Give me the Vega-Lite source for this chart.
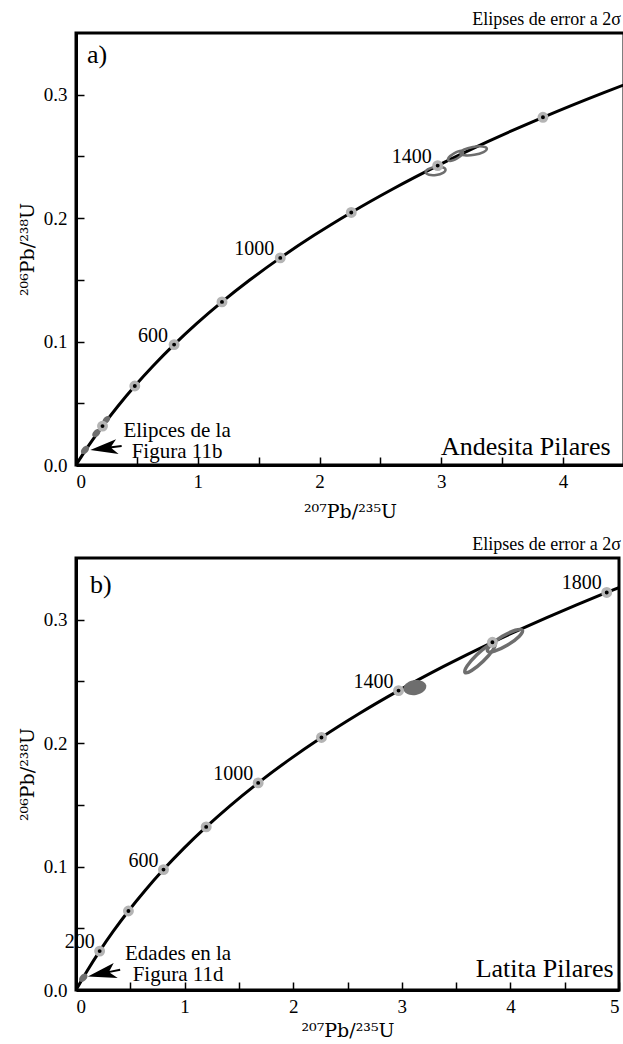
{
  "$schema": "https://vega.github.io/schema/vega-lite/v6.json",
  "background": "white",
  "padding": {"top": 9, "left": 16, "right": 0, "bottom": 0},
  "spacing": 11,
  "config": {
    "view": {"stroke": "black", "strokeWidth": 3},
    "font": "Liberation Serif",
    "axis": {"domainColor": "black", "domainWidth": 3, "tickColor": "black", "tickWidth": 1.5, "tickSize": -8, "labelFont": "Liberation Serif", "labelFontSize": 19, "labelColor": "black", "labelOverlap": false, "labelBound": false, "titleFont": "DejaVu Serif", "titleFontSize": 19, "titleFontWeight": "normal", "titleColor": "black", "grid": false},
    "axisY": {"titlePadding": 6, "labelPadding": 17},
    "axisX": {"labelPadding": 15, "titleBaseline": "middle", "titleAlign": "center", "titleY": 46},
    "title": {"font": "Liberation Serif", "fontSize": 18, "fontWeight": "normal", "anchor": "end", "offset": 4, "color": "black", "frame": "group"}
  },
  "datasets": {
    "concordia": [
      {"t": 0, "x": 0, "y": 0},
      {"t": 50, "x": 0.05048, "y": 0.007786},
      {"t": 100, "x": 0.10350, "y": 0.015633},
      {"t": 200, "x": 0.21771, "y": 0.031511},
      {"t": 300, "x": 0.34374, "y": 0.047637},
      {"t": 400, "x": 0.48281, "y": 0.064016},
      {"t": 500, "x": 0.63628, "y": 0.080650},
      {"t": 600, "x": 0.80563, "y": 0.097544},
      {"t": 700, "x": 0.99251, "y": 0.114702},
      {"t": 800, "x": 1.19873, "y": 0.132129},
      {"t": 900, "x": 1.42629, "y": 0.149828},
      {"t": 1000, "x": 1.67741, "y": 0.167804},
      {"t": 1100, "x": 1.95452, "y": 0.186061},
      {"t": 1200, "x": 2.26030, "y": 0.204603},
      {"t": 1300, "x": 2.59774, "y": 0.223435},
      {"t": 1400, "x": 2.97009, "y": 0.242561},
      {"t": 1500, "x": 3.38099, "y": 0.261988},
      {"t": 1600, "x": 3.83441, "y": 0.281717},
      {"t": 1700, "x": 4.33477, "y": 0.301754},
      {"t": 1750, "x": 4.60404, "y": 0.311890},
      {"t": 1800, "x": 4.88690, "y": 0.322104},
      {"t": 1850, "x": 5.18405, "y": 0.332399}
    ],
    "dots": [
      {"t": 200, "x": 0.21771, "y": 0.031511},
      {"t": 400, "x": 0.48281, "y": 0.064016},
      {"t": 600, "x": 0.80563, "y": 0.097544},
      {"t": 800, "x": 1.19873, "y": 0.132129},
      {"t": 1000, "x": 1.67741, "y": 0.167804},
      {"t": 1200, "x": 2.26030, "y": 0.204603},
      {"t": 1400, "x": 2.97009, "y": 0.242561},
      {"t": 1600, "x": 3.83441, "y": 0.281717},
      {"t": 1800, "x": 4.88690, "y": 0.322104}
    ],
    "agesA": [
      {"x": 0.80563, "y": 0.097544, "label": "600"},
      {"x": 1.67741, "y": 0.167804, "label": "1000"},
      {"x": 2.97009, "y": 0.242561, "label": "1400"}
    ],
    "agesB": [
      {"x": 0.21771, "y": 0.031511, "label": "200"},
      {"x": 0.80563, "y": 0.097544, "label": "600"},
      {"x": 1.67741, "y": 0.167804, "label": "1000"},
      {"x": 2.97009, "y": 0.242561, "label": "1400"},
      {"x": 4.88690, "y": 0.322104, "label": "1800"}
    ],
    "ellA": [
      {"x": 2.953, "y": 0.2382, "major": 0.164, "shape": "r40", "angle": -8, "kind": "open"},
      {"x": 3.117, "y": 0.2504, "major": 0.139, "shape": "r35", "angle": -30, "kind": "open"},
      {"x": 3.265, "y": 0.2545, "major": 0.221, "shape": "r30", "angle": -10, "kind": "open"},
      {"x": 0.074, "y": 0.0122, "major": 0.08, "shape": "r65", "angle": -45, "kind": "filled"},
      {"x": 0.167, "y": 0.0258, "major": 0.08, "shape": "r65", "angle": -45, "kind": "filled"},
      {"x": 0.249, "y": 0.0366, "major": 0.075, "shape": "r65", "angle": -45, "kind": "filled"}
    ],
    "ellB": [
      {"x": 3.12, "y": 0.245, "major": 0.19, "shape": "r65", "angle": -10, "kind": "filled"},
      {"x": 3.72, "y": 0.269, "major": 0.341, "shape": "r22", "angle": -44, "kind": "open"},
      {"x": 3.95, "y": 0.283, "major": 0.332, "shape": "r25", "angle": -31, "kind": "open"},
      {"x": 0.067, "y": 0.0099, "major": 0.083, "shape": "r65", "angle": -45, "kind": "filled"}
    ],
    "textA": [
      {"x": 0.09, "y": 0.326, "label": "a)", "kind": "panel"},
      {"x": 4.39, "y": 0.008, "label": "Andesita Pilares", "kind": "name"},
      {"x": 0.83, "y": 0.0276, "label": "Elipces de la\nFigura 11b", "kind": "note"}
    ],
    "textB": [
      {"x": 0.13, "y": 0.322, "label": "b)", "kind": "panel"},
      {"x": 4.95, "y": 0.0105, "label": "Latita Pilares", "kind": "name"},
      {"x": 0.94, "y": 0.029, "label": "Edades en la\nFigura 11d", "kind": "note"}
    ],
    "arrowA": [{"x": 0.246, "y": 0.0138}],
    "arrowB": [{"x": 0.258, "y": 0.0137}]
  },
  "vconcat": [
    {
      "width": 548,
      "height": 432,
      "title": {"text": "Elipses de error a 2σ", "dx": -3},
      "layer": [
        {
          "data": {"name": "concordia"},
          "mark": {"type": "line", "color": "black", "strokeWidth": 3, "clip": true, "interpolate": "monotone"},
          "encoding": {
            "x": {"field": "x", "type": "quantitative", "title": "²⁰⁷Pb/²³⁵U", "scale": {"domain": [0, 4.5], "nice": false, "zero": false},
                  "axis": {"values": [0, 0.5, 1, 1.5, 2, 2.5, 3, 3.5, 4, 4.5], "labelExpr": "datum.value % 1 === 0 ? format(datum.value, 'd') : ''"}},
            "y": {"field": "y", "type": "quantitative", "title": "²⁰⁶Pb/²³⁸U", "scale": {"domain": [0, 0.35], "nice": false, "zero": false},
                  "axis": {"values": [0, 0.05, 0.1, 0.15, 0.2, 0.25, 0.3], "labelExpr": "round(datum.value * 100) % 10 === 0 ? format(datum.value, '.1f') : ''"}},
            "order": {"field": "t", "type": "quantitative"}
          }
        },
        {
          "data": {"name": "ellA"},
          "transform": [{"filter": "datum.kind === 'filled'"}],
          "mark": {"type": "point", "filled": true, "color": "#6e6e6e", "opacity": 1, "clip": true},
          "encoding": {
            "x": {"field": "x", "type": "quantitative"},
            "y": {"field": "y", "type": "quantitative"},
            "size": {"field": "major", "type": "quantitative", "legend": null, "scale": {"type": "pow", "exponent": 2, "domain": [0, 1], "range": [0, 14860]}},
            "shape": {"field": "shape", "type": "nominal", "legend": null, "scale": {"domain": ["r22", "r25", "r30", "r35", "r40", "r65"], "range": [
              "M -1 0 C -1 -0.1215 -0.5523 -0.22 0 -0.22 C 0.5523 -0.22 1 -0.1215 1 0 C 1 0.1215 0.5523 0.22 0 0.22 C -0.5523 0.22 -1 0.1215 -1 0 Z",
              "M -1 0 C -1 -0.1381 -0.5523 -0.25 0 -0.25 C 0.5523 -0.25 1 -0.1381 1 0 C 1 0.1381 0.5523 0.25 0 0.25 C -0.5523 0.25 -1 0.1381 -1 0 Z",
              "M -1 0 C -1 -0.1657 -0.5523 -0.3 0 -0.3 C 0.5523 -0.3 1 -0.1657 1 0 C 1 0.1657 0.5523 0.3 0 0.3 C -0.5523 0.3 -1 0.1657 -1 0 Z",
              "M -1 0 C -1 -0.1933 -0.5523 -0.35 0 -0.35 C 0.5523 -0.35 1 -0.1933 1 0 C 1 0.1933 0.5523 0.35 0 0.35 C -0.5523 0.35 -1 0.1933 -1 0 Z",
              "M -1 0 C -1 -0.2209 -0.5523 -0.4 0 -0.4 C 0.5523 -0.4 1 -0.2209 1 0 C 1 0.2209 0.5523 0.4 0 0.4 C -0.5523 0.4 -1 0.2209 -1 0 Z",
              "M -1 0 C -1 -0.359 -0.5523 -0.65 0 -0.65 C 0.5523 -0.65 1 -0.359 1 0 C 1 0.359 0.5523 0.65 0 0.65 C -0.5523 0.65 -1 0.359 -1 0 Z"]}},
            "angle": {"field": "angle", "type": "quantitative", "scale": null}
          }
        },
        {
          "data": {"name": "ellA"},
          "transform": [{"filter": "datum.kind === 'open'"}],
          "mark": {"type": "point", "filled": false, "stroke": "#6e6e6e", "strokeWidth": 2.5, "opacity": 1, "clip": true},
          "encoding": {
            "x": {"field": "x", "type": "quantitative"},
            "y": {"field": "y", "type": "quantitative"},
            "size": {"field": "major", "type": "quantitative", "legend": null},
            "shape": {"field": "shape", "type": "nominal", "legend": null},
            "angle": {"field": "angle", "type": "quantitative", "scale": null}
          }
        },
        {
          "data": {"name": "dots"},
          "mark": {"type": "point", "shape": "circle", "filled": true, "fill": "black", "stroke": "#b4b4b4", "strokeWidth": 3.5, "size": 55, "opacity": 1, "strokeOpacity": 1, "fillOpacity": 1, "clip": true},
          "encoding": {
            "x": {"field": "x", "type": "quantitative"},
            "y": {"field": "y", "type": "quantitative"}
          }
        },
        {
          "data": {"name": "agesA"},
          "mark": {"type": "text", "align": "right", "baseline": "alphabetic", "dx": -6, "dy": -3, "fontSize": 20, "font": "Liberation Serif", "color": "black"},
          "encoding": {
            "x": {"field": "x", "type": "quantitative"},
            "y": {"field": "y", "type": "quantitative"},
            "text": {"field": "label"}
          }
        },
        {
          "data": {"name": "textA"},
          "transform": [{"filter": "datum.kind === 'panel'"}],
          "mark": {"type": "text", "align": "left", "baseline": "alphabetic", "fontSize": 26, "font": "Liberation Serif", "color": "black"},
          "encoding": {"x": {"field": "x", "type": "quantitative"}, "y": {"field": "y", "type": "quantitative"}, "text": {"field": "label"}}
        },
        {
          "data": {"name": "textA"},
          "transform": [{"filter": "datum.kind === 'name'"}],
          "mark": {"type": "text", "align": "right", "baseline": "alphabetic", "fontSize": 26, "font": "Liberation Serif", "color": "black"},
          "encoding": {"x": {"field": "x", "type": "quantitative"}, "y": {"field": "y", "type": "quantitative"}, "text": {"field": "label"}}
        },
        {
          "data": {"name": "textA"},
          "transform": [{"filter": "datum.kind === 'note'"}],
          "mark": {"type": "text", "align": "center", "baseline": "middle", "lineBreak": "\n", "lineHeight": 21, "fontSize": 21, "font": "Liberation Serif", "color": "black"},
          "encoding": {"x": {"field": "x", "type": "quantitative"}, "y": {"field": "y", "type": "quantitative"}, "text": {"field": "label"}}
        },
        {
          "data": {"name": "arrowA"},
          "mark": {"type": "point", "shape": "M -1 0 L 0.7 -0.47 L 0.35 -0.06 L 1 -0.06 L 1 0.06 L 0.35 0.06 L 0.75 0.47 Z", "size": 1000, "filled": true, "color": "black", "opacity": 1, "angle": -7},
          "encoding": {"x": {"field": "x", "type": "quantitative"}, "y": {"field": "y", "type": "quantitative"}}
        }
      ]
    },
    {
      "width": 543,
      "height": 432,
      "title": {"text": "Elipses de error a 2σ", "dx": 2},
      "layer": [
        {
          "data": {"name": "concordia"},
          "mark": {"type": "line", "color": "black", "strokeWidth": 3, "clip": true, "interpolate": "monotone"},
          "encoding": {
            "x": {"field": "x", "type": "quantitative", "title": "²⁰⁷Pb/²³⁵U", "scale": {"domain": [0, 5], "nice": false, "zero": false},
                  "axis": {"values": [0, 0.5, 1, 1.5, 2, 2.5, 3, 3.5, 4, 4.5, 5], "labelExpr": "datum.value % 1 === 0 ? format(datum.value, 'd') : ''", "titleY": 40}},
            "y": {"field": "y", "type": "quantitative", "title": "²⁰⁶Pb/²³⁸U", "scale": {"domain": [0, 0.35], "nice": false, "zero": false},
                  "axis": {"values": [0, 0.05, 0.1, 0.15, 0.2, 0.25, 0.3], "labelExpr": "round(datum.value * 100) % 10 === 0 ? format(datum.value, '.1f') : ''"}},
            "order": {"field": "t", "type": "quantitative"}
          }
        },
        {
          "data": {"name": "ellB"},
          "transform": [{"filter": "datum.kind === 'filled'"}],
          "mark": {"type": "point", "filled": true, "color": "#6e6e6e", "opacity": 1, "clip": true},
          "encoding": {
            "x": {"field": "x", "type": "quantitative"},
            "y": {"field": "y", "type": "quantitative"},
            "size": {"field": "major", "type": "quantitative", "legend": null, "scale": {"type": "pow", "exponent": 2, "domain": [0, 1], "range": [0, 11772]}},
            "shape": {"field": "shape", "type": "nominal", "legend": null, "scale": {"domain": ["r22", "r25", "r30", "r35", "r40", "r65"], "range": [
              "M -1 0 C -1 -0.1215 -0.5523 -0.22 0 -0.22 C 0.5523 -0.22 1 -0.1215 1 0 C 1 0.1215 0.5523 0.22 0 0.22 C -0.5523 0.22 -1 0.1215 -1 0 Z",
              "M -1 0 C -1 -0.1381 -0.5523 -0.25 0 -0.25 C 0.5523 -0.25 1 -0.1381 1 0 C 1 0.1381 0.5523 0.25 0 0.25 C -0.5523 0.25 -1 0.1381 -1 0 Z",
              "M -1 0 C -1 -0.1657 -0.5523 -0.3 0 -0.3 C 0.5523 -0.3 1 -0.1657 1 0 C 1 0.1657 0.5523 0.3 0 0.3 C -0.5523 0.3 -1 0.1657 -1 0 Z",
              "M -1 0 C -1 -0.1933 -0.5523 -0.35 0 -0.35 C 0.5523 -0.35 1 -0.1933 1 0 C 1 0.1933 0.5523 0.35 0 0.35 C -0.5523 0.35 -1 0.1933 -1 0 Z",
              "M -1 0 C -1 -0.2209 -0.5523 -0.4 0 -0.4 C 0.5523 -0.4 1 -0.2209 1 0 C 1 0.2209 0.5523 0.4 0 0.4 C -0.5523 0.4 -1 0.2209 -1 0 Z",
              "M -1 0 C -1 -0.359 -0.5523 -0.65 0 -0.65 C 0.5523 -0.65 1 -0.359 1 0 C 1 0.359 0.5523 0.65 0 0.65 C -0.5523 0.65 -1 0.359 -1 0 Z"]}},
            "angle": {"field": "angle", "type": "quantitative", "scale": null}
          }
        },
        {
          "data": {"name": "ellB"},
          "transform": [{"filter": "datum.kind === 'open'"}],
          "mark": {"type": "point", "filled": false, "stroke": "#6e6e6e", "strokeWidth": 3.5, "opacity": 1, "clip": true},
          "encoding": {
            "x": {"field": "x", "type": "quantitative"},
            "y": {"field": "y", "type": "quantitative"},
            "size": {"field": "major", "type": "quantitative", "legend": null},
            "shape": {"field": "shape", "type": "nominal", "legend": null},
            "angle": {"field": "angle", "type": "quantitative", "scale": null}
          }
        },
        {
          "data": {"name": "dots"},
          "mark": {"type": "point", "shape": "circle", "filled": true, "fill": "black", "stroke": "#b4b4b4", "strokeWidth": 3.5, "size": 55, "opacity": 1, "strokeOpacity": 1, "fillOpacity": 1, "clip": true},
          "encoding": {
            "x": {"field": "x", "type": "quantitative"},
            "y": {"field": "y", "type": "quantitative"}
          }
        },
        {
          "data": {"name": "agesB"},
          "mark": {"type": "text", "align": "right", "baseline": "alphabetic", "dx": -5, "dy": -3, "fontSize": 20, "font": "Liberation Serif", "color": "black"},
          "encoding": {
            "x": {"field": "x", "type": "quantitative"},
            "y": {"field": "y", "type": "quantitative"},
            "text": {"field": "label"}
          }
        },
        {
          "data": {"name": "textB"},
          "transform": [{"filter": "datum.kind === 'panel'"}],
          "mark": {"type": "text", "align": "left", "baseline": "alphabetic", "fontSize": 26, "font": "Liberation Serif", "color": "black"},
          "encoding": {"x": {"field": "x", "type": "quantitative"}, "y": {"field": "y", "type": "quantitative"}, "text": {"field": "label"}}
        },
        {
          "data": {"name": "textB"},
          "transform": [{"filter": "datum.kind === 'name'"}],
          "mark": {"type": "text", "align": "right", "baseline": "alphabetic", "fontSize": 26, "font": "Liberation Serif", "color": "black"},
          "encoding": {"x": {"field": "x", "type": "quantitative"}, "y": {"field": "y", "type": "quantitative"}, "text": {"field": "label"}}
        },
        {
          "data": {"name": "textB"},
          "transform": [{"filter": "datum.kind === 'note'"}],
          "mark": {"type": "text", "align": "center", "baseline": "middle", "lineBreak": "\n", "lineHeight": 21, "fontSize": 21, "font": "Liberation Serif", "color": "black"},
          "encoding": {"x": {"field": "x", "type": "quantitative"}, "y": {"field": "y", "type": "quantitative"}, "text": {"field": "label"}}
        },
        {
          "data": {"name": "arrowB"},
          "mark": {"type": "point", "shape": "M -1 0 L 0.7 -0.47 L 0.35 -0.06 L 1 -0.06 L 1 0.06 L 0.35 0.06 L 0.75 0.47 Z", "size": 1089, "filled": true, "color": "black", "opacity": 1, "angle": -12},
          "encoding": {"x": {"field": "x", "type": "quantitative"}, "y": {"field": "y", "type": "quantitative"}}
        }
      ]
    }
  ]
}
